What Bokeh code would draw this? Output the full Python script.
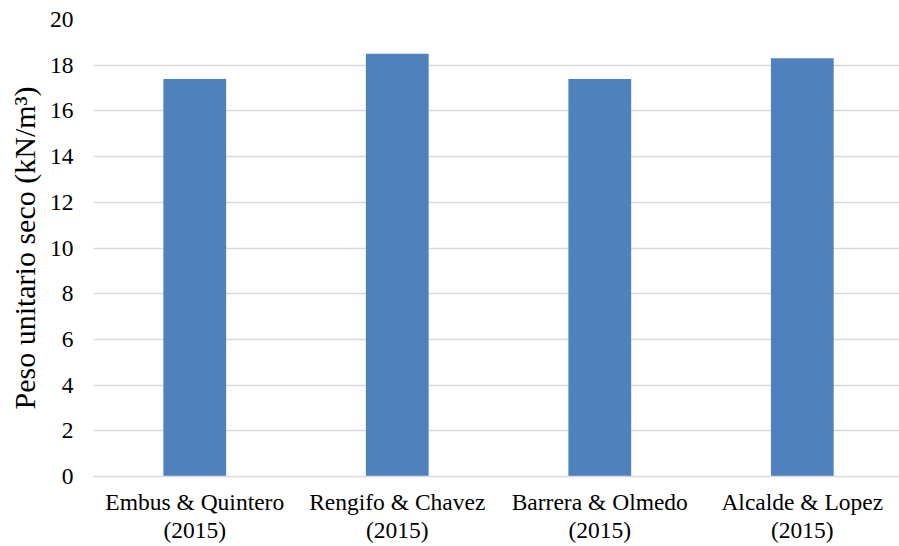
from bokeh.plotting import figure
from bokeh.models import Range1d, FixedTicker, ColumnDataSource
from bokeh.embed import file_html
from bokeh.resources import INLINE

# Dry unit weight reported by each study
studies = ["Embus & Quintero\n(2015)", "Rengifo & Chavez\n(2015)",
           "Barrera & Olmedo\n(2015)", "Alcalde & Lopez\n(2015)"]
dry_unit_weight = [17.4, 18.5, 17.4, 18.3]
y_ticks = [0, 2, 4, 6, 8, 10, 12, 14, 16, 18, 20]

positions = list(range(len(studies)))
source = ColumnDataSource(dict(x=positions, top=dry_unit_weight))

FONT = "'Times New Roman', 'Liberation Serif', serif"
GRID = "#d9d9d9"

p = figure(width=899, height=546, output_backend="svg", toolbar_location=None,
           x_range=Range1d(-0.5, 3.48), y_range=Range1d(0, 20),
           min_border_left=93, min_border_right=0, min_border_top=19,
           min_border_bottom=70)
p.outline_line_color = None
p.background_fill_color = "white"
p.border_fill_color = "white"

p.vbar(x="x", top="top", width=0.31, bottom=0, source=source,
       fill_color="#4f81bd", line_color=None)

# x axis: study names as multi-line labels
p.xaxis.ticker = FixedTicker(ticks=positions)
p.xaxis.major_label_overrides = {i: s for i, s in enumerate(studies)}
p.xaxis.major_tick_line_color = None
p.xaxis.minor_tick_line_color = None
p.xaxis.major_tick_out = 0
p.xaxis.major_tick_in = 0
p.xaxis.axis_line_color = GRID
p.xaxis.axis_line_width = 1.5
p.xaxis.major_label_text_font = FONT
p.xaxis.major_label_text_font_size = "23.5px"
p.xaxis.major_label_text_color = "#000000"
p.xaxis.major_label_standoff = 12
p.xaxis.major_label_text_line_height = 1.1
p.xgrid.grid_line_color = None

# y axis
p.yaxis.ticker = FixedTicker(ticks=y_ticks)
p.yaxis.major_tick_line_color = None
p.yaxis.minor_tick_line_color = None
p.yaxis.major_tick_out = 0
p.yaxis.major_tick_in = 0
p.yaxis.axis_line_color = None
p.yaxis.major_label_text_font = FONT
p.yaxis.major_label_text_font_size = "23.5px"
p.yaxis.major_label_text_color = "#000000"
p.yaxis.major_label_standoff = 20
p.yaxis.axis_label = "Peso unitario seco (kN/m³)"
p.yaxis.axis_label_text_font = FONT
p.yaxis.axis_label_text_font_size = "30px"
p.yaxis.axis_label_text_font_style = "normal"
p.yaxis.axis_label_text_color = "#000000"
p.yaxis.axis_label_standoff = 6
p.ygrid.grid_line_color = GRID
p.ygrid.grid_line_width = 1.5

open("out.html", "w").write(file_html(p, INLINE))
